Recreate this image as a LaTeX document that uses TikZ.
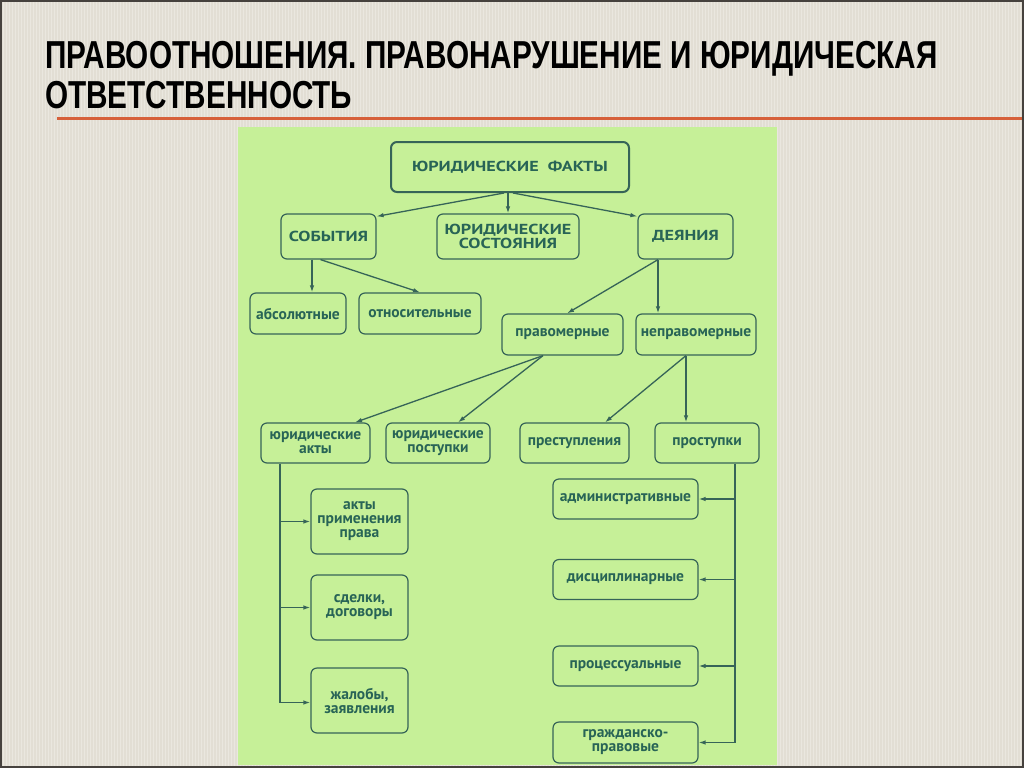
\documentclass[tikz,border=0pt]{standalone}
\usepackage{fontspec}
\newfontfamily\titlefont[FakeStretch=0.762]{Liberation Sans Bold}
\newfontfamily\boxfont{PT Sans}
\newfontfamily\capfont[FakeStretch=1.25]{PT Sans}
\usetikzlibrary{arrows.meta}
\definecolor{bgC}{RGB}{226,222,212}
\definecolor{stripeC}{RGB}{234,231,223}
\definecolor{borderC}{RGB}{70,66,62}
\definecolor{redC}{RGB}{214,96,58}
\definecolor{panelC}{RGB}{198,240,152}
\definecolor{lineC}{RGB}{54,100,88}
\definecolor{textC}{RGB}{40,100,86}
\begin{document}
\begin{tikzpicture}[x=1pt,y=-1pt,
  box/.style={draw=lineC, line width=1.2pt, rounded corners=6pt, text=textC,
    font=\boxfont\bfseries\fontsize{15.5}{14}\selectfont, align=center, inner sep=0pt},
  capbox/.style={box, font=\capfont\bfseries\fontsize{14.5}{12}\selectfont},
  arr/.style={draw=lineC, line width=1.3pt, -{Latex[length=7pt,width=4.5pt]}},
  ln/.style={draw=lineC, line width=1.3pt},
  ttl/.style={anchor=base west, inner sep=0pt, text=black, font=\titlefont\fontsize{39}{39}\selectfont}]
\useasboundingbox (0,0) rectangle (1024,768);
% background
\fill[bgC] (0,0) rectangle (1024,768);
\foreach \i in {0,3,...,1023} \fill[stripeC] (\i,0) rectangle (\i+1,768);
\draw[borderC, line width=2pt] (1,1) rectangle (1023,767);
% title
\node[ttl] (t1) at (45,68) {ПРАВООТНОШЕНИЯ. ПРАВОНАРУШЕНИЕ И ЮРИДИЧЕСКАЯ};
\node[ttl] (t2) at (45,108) {ОТВЕТСТВЕННОСТЬ};
\coordinate (rl1) at (57,118);
\coordinate (rl2) at (1022,118);
\draw[redC, line width=3pt] (rl1) -- (rl2);
% panel
\fill[panelC] (238,127) rectangle (777,765);
% nodes
\node[capbox, line width=2pt, minimum width=238pt, minimum height=50pt] (yf) at (510,167) {ЮРИДИЧЕСКИЕ\ \ ФАКТЫ};
\node[capbox, minimum width=95pt, minimum height=45pt] (sob) at (328.5,236.5) {СОБЫТИЯ};
\node[capbox, minimum width=142pt, minimum height=45pt] (sost) at (508,236.5) {ЮРИДИЧЕСКИЕ\\СОСТОЯНИЯ};
\node[capbox, minimum width=95pt, minimum height=45pt] (dey) at (685.5,236.5) {ДЕЯНИЯ};
\node[box, minimum width=96pt, minimum height=41pt] (abs) at (298,313.5) {абсолютные};
\node[box, minimum width=122pt, minimum height=41pt] (otn) at (420,313.5) {относительные};
\node[box, minimum width=121pt, minimum height=41pt] (prav) at (562.5,334.5) {правомерные};
\node[box, minimum width=120pt, minimum height=41pt] (neprav) at (696,334.5) {неправомерные};
\node[box, minimum width=109pt, minimum height=40pt] (yuakty) at (315.5,443) {юридические\\акты};
\node[box, minimum width=104pt, minimum height=40pt] (yupost) at (438,443) {юридические\\поступки};
\node[box, minimum width=109pt, minimum height=40pt] (prest) at (574.5,443) {преступления};
\node[box, minimum width=104pt, minimum height=40pt] (prost) at (707,443) {проступки};
\node[box, minimum width=97pt, minimum height=65pt] (akty) at (359.5,521.5) {акты\\применения\\права};
\node[box, minimum width=97pt, minimum height=65pt] (sdel) at (359.5,607.5) {сделки,\\договоры};
\node[box, minimum width=97pt, minimum height=65pt] (zhal) at (359.5,700.5) {жалобы,\\заявления};
\node[box, minimum width=145pt, minimum height=40pt] (adm) at (625.5,499) {административные};
\node[box, minimum width=145pt, minimum height=40pt] (disc) at (625.5,579.5) {дисциплинарные};
\node[box, minimum width=145pt, minimum height=40pt] (proc) at (625.5,666) {процессуальные};
\node[box, minimum width=145pt, minimum height=41pt] (grazh) at (625.5,742.5) {гражданско-\\правовые};
% connectors
\draw[arr] ([xshift=-6pt]yf.south) -- ([yshift=-3pt]sob.north east);
\draw[arr] ([xshift=-2pt]yf.south) -- ([xshift=-2pt]yf.south |- sost.north);
\draw[arr] ([xshift=3pt]yf.south) -- ([yshift=-3pt]dey.north west);
\draw[arr] ([xshift=-16.5pt]sob.south) -- ([xshift=-16.5pt]sob.south |- abs.north);
\draw[arr] ([xshift=-8pt]sob.south) -- (otn.north);
\draw[arr] ([xshift=-27.5pt]dey.south) -- ([xshift=4.5pt]prav.north);
\draw[arr] ([xshift=-27.5pt]dey.south) -- ([xshift=-27.5pt]dey.south |- neprav.north);
\draw[arr] ([xshift=-19.5pt]prav.south) -- ([xshift=39.5pt]yuakty.north);
\draw[arr] ([xshift=-19.5pt]prav.south) -- ([xshift=20pt]yupost.north);
\draw[arr] ([xshift=-10pt]neprav.south) -- ([xshift=30.5pt]prest.north);
\draw[arr] ([xshift=-10pt]neprav.south) -- ([xshift=-10pt]neprav.south |- prost.north);
% left bus
\coordinate (bl) at ([xshift=-35.5pt]yuakty.south);
\coordinate (blend) at (bl |- zhal.west);
\draw[ln] (bl) -- ([yshift=-2pt]blend);
\draw[arr] (bl |- akty.west) -- (akty.west);
\draw[arr] (bl |- sdel.west) -- (sdel.west);
\draw[arr] ([yshift=-2pt]blend) -- ([yshift=-2pt]zhal.west);
% right bus
\coordinate (br) at ([xshift=28pt]prost.south);
\coordinate (brend) at (br |- grazh.east);
\draw[ln] (br) -- (brend);
\draw[arr] (br |- adm.east) -- (adm.east);
\draw[arr] (br |- disc.east) -- (disc.east);
\draw[arr] (br |- proc.east) -- (proc.east);
\draw[arr] (brend) -- (grazh.east);
\end{tikzpicture}
\end{document}
